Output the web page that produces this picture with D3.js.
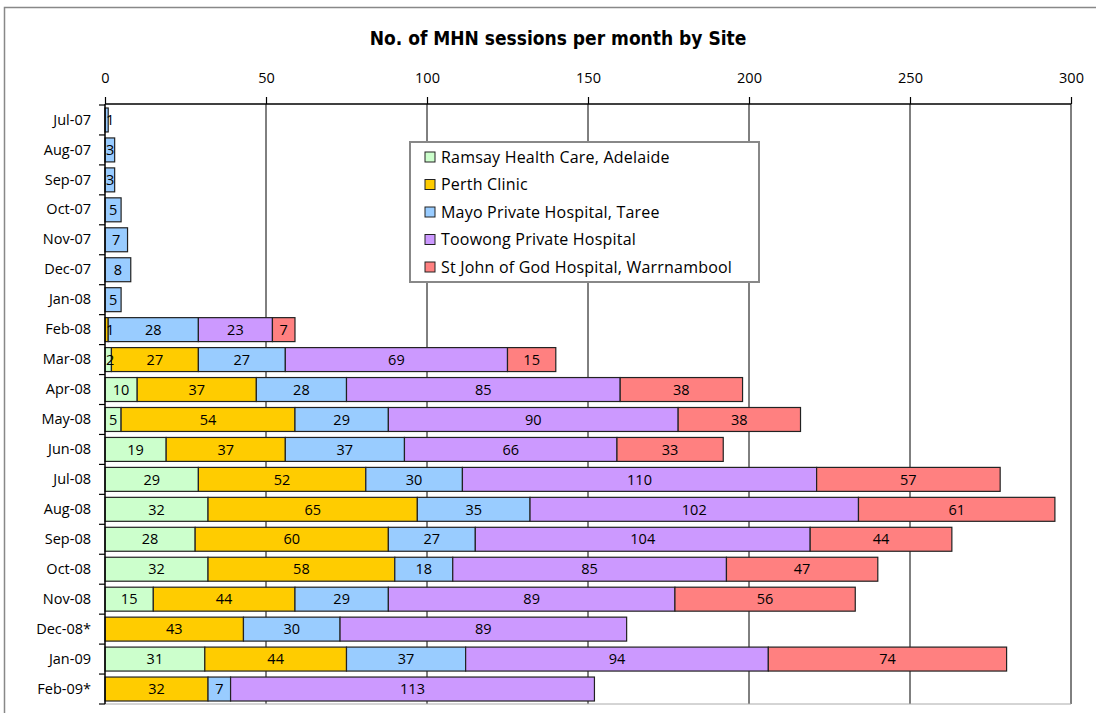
<!DOCTYPE html>
<html><head><meta charset="utf-8">
<script src="https://cdn.jsdelivr.net/npm/d3@7"></script>
<style>body{margin:0;background:#fff;} svg{display:block;}</style>
</head><body>
<svg id="c" width="1096" height="713"></svg>
<script>
const months = ["Jul-07","Aug-07","Sep-07","Oct-07","Nov-07","Dec-07","Jan-08","Feb-08","Mar-08","Apr-08","May-08","Jun-08","Jul-08","Aug-08","Sep-08","Oct-08","Nov-08","Dec-08*","Jan-09","Feb-09*"];
const seriesNames = ["Ramsay Health Care, Adelaide","Perth Clinic","Mayo Private Hospital, Taree","Toowong Private Hospital","St John of God Hospital, Warrnambool"];
const ramsay  = [0,0,0,0,0,0,0,0,2,10,5,19,29,32,28,32,15,0,31,0];
const perth   = [0,0,0,0,0,0,0,1,27,37,54,37,52,65,60,58,44,43,44,32];
const mayo    = [1,3,3,5,7,8,5,28,27,28,29,37,30,35,27,18,29,30,37,7];
const toowong = [0,0,0,0,0,0,0,23,69,85,90,66,110,102,104,85,89,89,94,113];
const stjohn  = [0,0,0,0,0,0,0,7,15,38,38,33,57,61,44,47,56,0,74,0];
const xTicks = [0,50,100,150,200,250,300];
const colors = ["#CCFFCC","#FFCC00","#99CCFF","#CC99FF","#FF8080"];

const seriesVals = [ramsay, perth, mayo, toowong, stjohn];
const rows = months.map((m,i)=>{const o={month:m}; seriesNames.forEach((s,j)=>o[s]=seriesVals[j][i]); return o;});
const stack = d3.stack().keys(seriesNames)(rows);

const svg = d3.select("#c");
const L=105, R=1071, T=104, B=704;
const x = d3.scaleLinear().domain([0,300]).range([L,R]);
const y = d3.scaleBand().domain(months).range([T+1,B]).paddingInner(0.2).paddingOuter(0.1);
const font = "'Open Sans', sans-serif";

// outer frame
svg.append("rect").attr("x",4.5).attr("y",7.5).attr("width",1100).attr("height",720)
  .attr("fill","none").attr("stroke","#888").attr("stroke-width",1.5);

svg.append("text").attr("x",558).attr("y",45).attr("text-anchor","middle")
  .attr("font-family","'DejaVu Sans Condensed', 'Open Sans', sans-serif").attr("font-weight","bold").attr("font-size",19)
  .text("No. of MHN sessions per month by Site");

// gridlines
svg.append("g").selectAll("line").data(xTicks.slice(1)).join("line")
  .attr("x1",d=>x(d)).attr("x2",d=>x(d)).attr("y1",T).attr("y2",B)
  .attr("stroke","#000").attr("stroke-width",1);
// bottom line
svg.append("line").attr("x1",L).attr("x2",R).attr("y1",B).attr("y2",B).attr("stroke","#aaa").attr("stroke-width",1);

// bars
const g = svg.append("g");
stack.forEach((layer,j)=>{
  g.append("g").selectAll("rect").data(layer.filter(d=>d[1]-d[0]>0)).join("rect")
    .attr("x",d=>x(d[0])).attr("width",d=>x(d[1])-x(d[0]))
    .attr("y",d=>y(d.data.month)).attr("height",y.bandwidth())
    .attr("fill",colors[j]).attr("stroke","#222").attr("stroke-width",1.2);
});
stack.forEach((layer,j)=>{
  g.append("g").selectAll("text").data(layer.filter(d=>d[1]-d[0]>0)).join("text")
    .attr("x",d=>{const w=x(d[1])-x(d[0]); return w<14 ? x(d[0])+1 : (x(d[0])+x(d[1]))/2;})
    .attr("text-anchor",d=>(x(d[1])-x(d[0]))<14?"start":"middle")
    .attr("y",d=>y(d.data.month)+y.bandwidth()/2).attr("dy","0.36em")
    .attr("font-family",font).attr("font-size",14.5).attr("fill","#000")
    .text(d=>d[1]-d[0]);
});

// top axis
const xa = svg.append("g").attr("transform",`translate(0,${T})`)
  .call(d3.axisTop(x).tickValues(xTicks).tickSize(7).tickPadding(14));
xa.select(".domain").attr("stroke","#000").attr("stroke-width",1.5).attr("d",`M${L},0H${R}`);
xa.selectAll(".tick line").attr("stroke","#000").attr("stroke-width",1.2);
xa.selectAll("text").attr("font-family",font).attr("font-size",14.5).attr("fill","#000");

// left axis
const ya = svg.append("g").attr("transform",`translate(${L},0)`)
  .call(d3.axisLeft(y).tickSize(0).tickPadding(14));
ya.select(".domain").attr("stroke","#000").attr("stroke-width",1.5).attr("d",`M0,${T}V${B}`);
ya.selectAll("text").attr("font-family",font).attr("font-size",14.5).attr("fill","#000");
// category boundary ticks
const bounds = months.map(m=>y(m)-y.step()*y.paddingInner()/2).concat([B]);
svg.append("g").selectAll("line").data(bounds).join("line")
  .attr("x1",L-6).attr("x2",L).attr("y1",d=>d).attr("y2",d=>d).attr("stroke","#000").attr("stroke-width",1.2);

// legend
const lg = svg.append("g").attr("transform","translate(410,142)");
lg.append("rect").attr("width",349).attr("height",140).attr("fill","#fff").attr("stroke","#888").attr("stroke-width",2);
seriesNames.forEach((s,j)=>{
  const gy = 15 + j*27.5;
  lg.append("rect").attr("x",15).attr("y",gy-5).attr("width",10).attr("height",10)
    .attr("fill",colors[j]).attr("stroke","#222").attr("stroke-width",1);
  lg.append("text").attr("x",31).attr("y",gy).attr("dy","0.36em")
    .attr("font-family",font).attr("font-size",16).attr("letter-spacing",0.2).attr("fill","#000").text(s);
});
</script>
</body></html>
